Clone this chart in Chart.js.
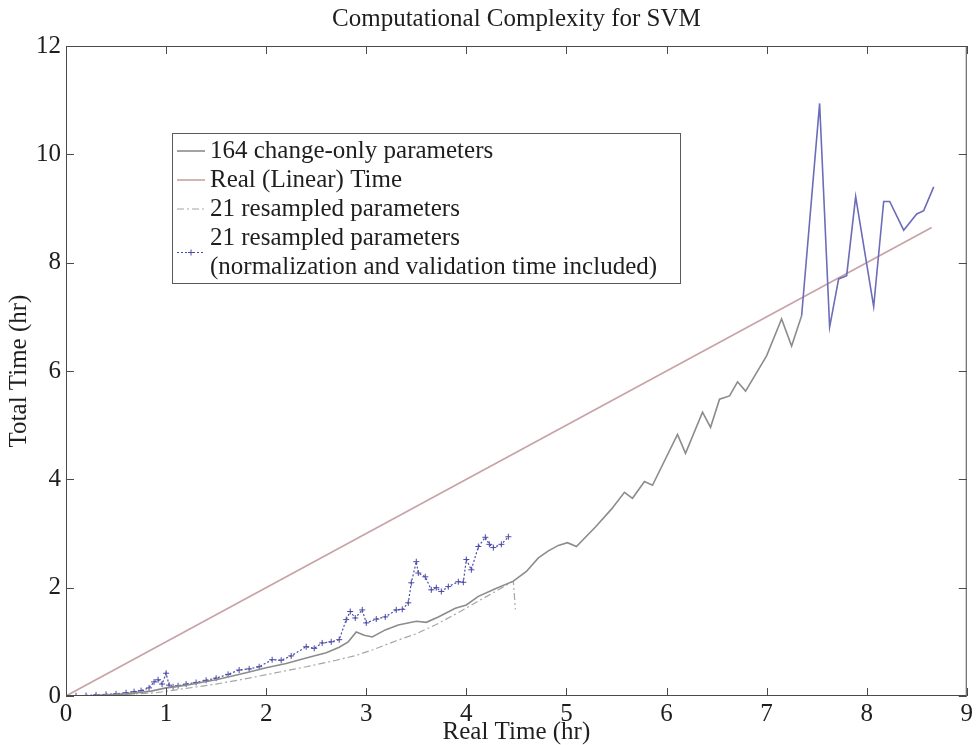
<!DOCTYPE html>
<html><head><meta charset="utf-8">
<script src="https://cdn.jsdelivr.net/npm/chart.js@4/dist/chart.umd.min.js"></script>
<style>html,body{margin:0;padding:0;background:#fff}#wrap{width:976px;height:745px;position:relative}</style>
</head><body><div id="wrap"><canvas id="c" width="976" height="745"></canvas></div>
<script>
// ---- text ----
const chartTitle = 'Computational Complexity for SVM';
const xAxisTitle = 'Real Time (hr)';
const yAxisTitle = 'Total Time (hr)';
const legendLines = [
  ['164 change-only parameters'],
  ['Real (Linear) Time'],
  ['21 resampled parameters'],
  ['21 resampled parameters', '(normalization and validation time included)']
];
// ---- axes ----
const xTicks = [0,1,2,3,4,5,6,7,8,9];
const yTicks = [0,2,4,6,8,10,12];
// ---- series: 164 change-only parameters ----
const x164 = [0,0.3,0.6,0.85,1.0,1.2,1.5,1.8,2.0,2.2,2.4,2.6,2.73,2.82,2.9,2.98,3.06,3.19,3.32,3.5,3.6,3.72,3.89,4.0,4.12,4.29,4.47,4.6,4.72,4.82,4.92,5.01,5.1,5.29,5.45,5.58,5.66,5.78,5.86,6.11,6.19,6.36,6.44,6.53,6.63,6.71,6.79,7.0,7.15,7.25,7.35,7.53,7.63,7.72,7.80,7.89,8.07,8.17,8.23,8.37,8.5,8.57,8.67];
const y164 = [0,0.01,0.04,0.09,0.15,0.2,0.3,0.43,0.52,0.6,0.7,0.8,0.9,1.0,1.18,1.12,1.09,1.22,1.31,1.38,1.36,1.46,1.62,1.68,1.84,1.98,2.12,2.3,2.55,2.68,2.78,2.83,2.76,3.12,3.45,3.76,3.65,3.96,3.89,4.83,4.48,5.24,4.96,5.48,5.54,5.80,5.63,6.28,6.96,6.46,7.02,10.94,6.81,7.70,7.76,9.22,7.19,9.13,9.13,8.6,8.9,8.96,9.4];
// ---- series: Real (Linear) Time ----
const xReal = [0, 8.65];
const yReal = [0, 8.65];
// ---- series: 21 resampled parameters ----
const xRes = [0,0.5,0.9,1.2,1.5,1.8,2.1,2.4,2.7,2.9,3.06,3.3,3.5,3.7,3.9,4.1,4.3,4.47,4.49];
const yRes = [0,0.02,0.06,0.14,0.22,0.32,0.43,0.54,0.66,0.75,0.85,1.02,1.15,1.32,1.52,1.73,1.94,2.12,1.6];
// ---- series: 21 resampled parameters (normalization and validation time included) ----
const xNorm = [0,0.1,0.2,0.3,0.4,0.5,0.6,0.68,0.75,0.83,0.88,0.92,0.96,1.0,1.03,1.07,1.12,1.2,1.3,1.4,1.5,1.62,1.73,1.83,1.93,2.06,2.15,2.25,2.4,2.48,2.56,2.65,2.73,2.8,2.84,2.89,2.96,3.0,3.1,3.19,3.3,3.36,3.42,3.45,3.5,3.52,3.59,3.65,3.7,3.75,3.82,3.92,3.97,4.0,4.05,4.12,4.19,4.23,4.27,4.35,4.42];
const yNorm = [0,0.005,0.01,0.02,0.03,0.04,0.06,0.08,0.1,0.15,0.26,0.3,0.22,0.42,0.2,0.17,0.19,0.22,0.25,0.29,0.33,0.4,0.48,0.5,0.54,0.67,0.66,0.74,0.91,0.88,0.98,1.0,1.04,1.41,1.56,1.44,1.59,1.35,1.42,1.46,1.59,1.6,1.72,2.09,2.48,2.27,2.2,1.96,2.0,1.93,2.02,2.11,2.1,2.52,2.33,2.76,2.93,2.8,2.74,2.8,2.94];

const pts = (xs, ys) => xs.map((v, i) => ({x: v, y: ys[i]}));
const FONT = "'Liberation Serif', 'Times New Roman', serif";
const TXT = '#1e1e1e';
const C164 = '#8c8c8c', C164B = '#6c6cb8', CREAL = '#c8a2a6', CRES = '#a6a6a6', CNORM = '#4a4aa6';

const frame = {
  id: 'frame',
  afterDraw(chart) {
    const {ctx, chartArea: a, scales: {x, y}} = chart;
    ctx.save();
    ctx.strokeStyle = '#4a4a4a'; ctx.lineWidth = 1;
    ctx.strokeRect(a.left + 0.5, a.top + 0.5, a.right - a.left - 1, a.bottom - a.top - 1);
    const L = 8;
    ctx.beginPath();
    x.ticks.forEach(t => { const p = Math.round(x.getPixelForValue(t.value)) + 0.5;
      ctx.moveTo(p, a.bottom); ctx.lineTo(p, a.bottom - L); ctx.moveTo(p, a.top); ctx.lineTo(p, a.top + L); });
    y.ticks.forEach(t => { const p = Math.round(y.getPixelForValue(t.value)) + 0.5;
      ctx.moveTo(a.left, p); ctx.lineTo(a.left + L, p); ctx.moveTo(a.right, p); ctx.lineTo(a.right - L, p); });
    ctx.stroke();
    // legend
    const bx = a.left + 106, by = a.top + 87, bw = 508, bh = 150, rowH = 29;
    ctx.fillStyle = '#fff'; ctx.fillRect(bx, by, bw, bh);
    ctx.strokeStyle = '#5a5a5a'; ctx.strokeRect(bx + 0.5, by + 0.5, bw, bh);
    ctx.font = '25px ' + FONT; ctx.textBaseline = 'middle'; ctx.fillStyle = TXT;
    let row = 0;
    legendLines.forEach((lines, i) => {
      const ds = chart.data.datasets[i];
      const y0 = by + 18 + row * rowH;
      const sy = y0 + (lines.length - 1) * rowH / 2;
      ctx.save();
      ctx.strokeStyle = i === 0 ? C164 : ds.borderColor; ctx.lineWidth = ds.borderWidth;
      ctx.setLineDash(ds.borderDash || []);
      ctx.beginPath(); ctx.moveTo(bx + 5, sy); ctx.lineTo(bx + 33, sy); ctx.stroke();
      if (ds.pointRadius) { ctx.setLineDash([]); ctx.lineWidth = 1;
        ctx.beginPath(); ctx.moveTo(bx + 16, sy); ctx.lineTo(bx + 22, sy); ctx.moveTo(bx + 19, sy - 3); ctx.lineTo(bx + 19, sy + 3); ctx.stroke(); }
      ctx.restore();
      lines.forEach((t, k) => ctx.fillText(t, bx + 38, y0 + k * rowH));
      row += lines.length;
    });
    ctx.restore();
  }
};

new Chart(document.getElementById('c'), {
  type: 'line',
  data: { datasets: [
    { label: legendLines[0].join(' '), data: pts(x164, y164), borderColor: C164, borderWidth: 1.6, pointRadius: 0, tension: 0,
      segment: { borderColor: c => c.p0.parsed.x >= 7.3 ? C164B : C164 } },
    { label: legendLines[1].join(' '), data: pts(xReal, yReal), borderColor: CREAL, borderWidth: 1.6, pointRadius: 0 },
    { label: legendLines[2].join(' '), data: pts(xRes, yRes), borderColor: CRES, borderWidth: 1.2, borderDash: [7,3,2,3], pointRadius: 0 },
    { label: legendLines[3].join(' '), data: pts(xNorm, yNorm), borderColor: CNORM, borderWidth: 1.2, borderDash: [2,2],
      pointStyle: 'cross', pointRadius: 3, pointBorderWidth: 1, pointBorderColor: CNORM }
  ]},
  options: {
    responsive: false, animation: false, devicePixelRatio: 1,
    layout: { padding: { top: 0, right: 4, left: 0, bottom: 0 } },
    plugins: {
      legend: { display: false }, tooltip: { enabled: false },
      title: { display: true, fullSize: false, text: chartTitle, color: TXT, font: { family: FONT, size: 25, weight: 'normal' }, padding: { top: 4, bottom: 12 } }
    },
    scales: {
      x: { type: 'linear', min: 0, max: 9, afterFit: s => { s.height = 49; },
        afterBuildTicks: s => { s.ticks = xTicks.map(v => ({value: v})); },
        grid: { display: false, drawTicks: false }, border: { display: false },
        ticks: { color: TXT, padding: 3, font: { family: FONT, size: 25 } },
        title: { display: true, text: xAxisTitle, color: TXT, font: { family: FONT, size: 25, lineHeight: 1.0 }, padding: { top: 0, bottom: 0 } } },
      y: { min: 0, max: 12, afterFit: s => { s.width = 66; },
        afterBuildTicks: s => { s.ticks = yTicks.map(v => ({value: v})); },
        grid: { display: false, drawTicks: false }, border: { display: false },
        ticks: { color: TXT, padding: 5, font: { family: FONT, size: 25 } },
        title: { display: true, text: yAxisTitle, color: TXT, font: { family: FONT, size: 25 }, padding: { top: 4, bottom: 0 } } }
    }
  },
  plugins: [frame]
});
</script></body></html>
